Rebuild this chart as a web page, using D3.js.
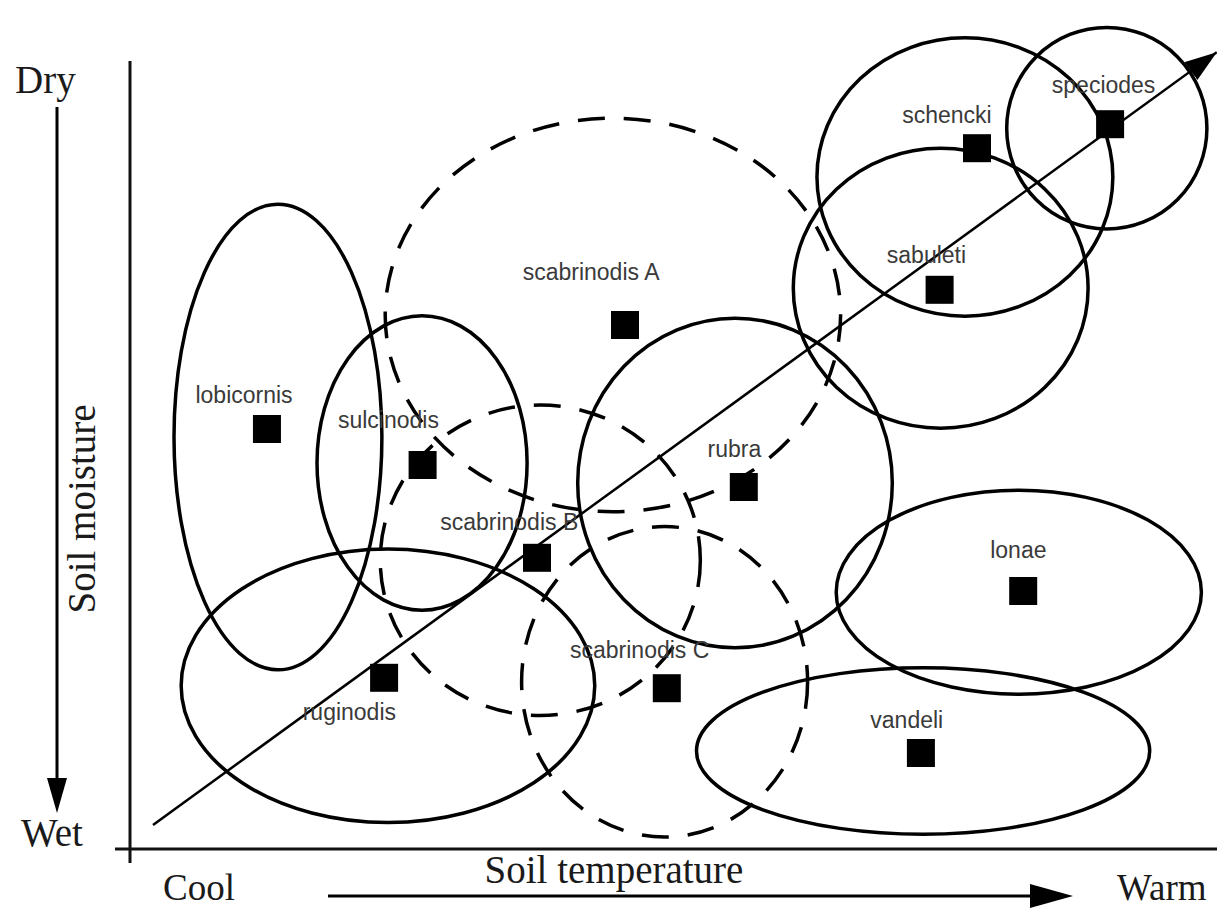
<!DOCTYPE html>
<html>
<head>
<meta charset="utf-8">
<script src="https://cdn.jsdelivr.net/npm/d3@7"></script>
<style>
  html, body { margin: 0; padding: 0; background: #fff; }
  svg { display: block; }
</style>
</head>
<body>
<svg id="chart" width="1217" height="910"></svg>
<script>
// ---- Data (abstract units: temperature 0-100 cool->warm, moisture 0-100 wet->dry) ----
const species      = ["lobicornis","sulcinodis","scabrinodis A","scabrinodis B","scabrinodis C","rubra","ruginodis","schencki","speciodes","sabuleti","lonae","vandeli"];
const optimumTemp  = [12.45, 26.6, 45.0, 37.0, 48.8, 55.8, 23.1, 77.0, 89.1, 73.6, 81.2, 71.9];
const optimumMoist = [52.5, 48.0, 65.5, 36.4, 20.1, 45.25, 21.4, 87.6, 90.6, 69.9, 32.25, 12.0];

// niche ellipses: centre and half-widths
const nicheCx   = [13.45, 26.55, 43.9, 37.3, 48.6, 55.0, 23.45, 75.9, 88.8, 73.7, 80.8, 72.1];
const nicheCy   = [51.5, 48.25, 66.75, 36.1, 20.9, 45.75, 20.4, 84.0, 90.1, 70.1, 32.1, 12.25];
const nicheRx   = [9.45, 9.55, 20.7, 14.55, 13.0, 14.3, 18.8, 13.45, 9.1, 13.4, 16.6, 20.6];
const nicheRy   = [29.1, 18.4, 24.6, 19.4, 19.4, 20.6, 17.1, 17.4, 12.6, 17.5, 12.75, 10.4];
const nicheDash = [false, false, true, true, true, false, false, false, false, false, false, false];

// label anchor offsets (abstract units, relative to square)
const labelDx = [-6.5, -7.7, -9.3, -8.8, -8.8, -3.3, -7.4, -6.8, -5.3, -4.8, -3.0, -4.6];
const labelDy = [3.3, 4.6, 5.6, 3.5, 3.75, 3.75, -5.25, 3.1, 3.9, 3.4, 4.1, 3.1];

// diagonal gradient (start, end)
const trendTemp  = [2.09, 98.8];
const trendMoist = [3.0, 99.6];

const axisText = { dry: "Dry", wet: "Wet", cool: "Cool", warm: "Warm", xTitle: "Soil temperature", yTitle: "Soil moisture" };

// ---- Layout ----
const svg = d3.select("#chart");
const x = d3.scaleLinear().domain([0, 100]).range([130, 1230]);
const y = d3.scaleLinear().domain([0, 100]).range([849, 49]);
const sx = d => x(d) - x(0);
const sy = d => y(0) - y(d);

const serif = "'Liberation Serif','Times New Roman',Times,serif";
const sans  = "'Liberation Sans',Arial,Helvetica,sans-serif";

// axes (plain lines)
svg.append("line").attr("x1", 115).attr("x2", 1217).attr("y1", y(0)).attr("y2", y(0))
   .attr("stroke", "#111").attr("stroke-width", 3);
svg.append("line").attr("x1", x(0)).attr("x2", x(0)).attr("y1", 61).attr("y2", 863)
   .attr("stroke", "#111").attr("stroke-width", 3);

// ellipses
const niches = species.map((s, i) => ({ s, cx: nicheCx[i], cy: nicheCy[i], rx: nicheRx[i], ry: nicheRy[i], dash: nicheDash[i] }));
svg.append("g").selectAll("ellipse").data(niches).join("ellipse")
  .attr("cx", d => x(d.cx)).attr("cy", d => y(d.cy))
  .attr("rx", d => sx(d.rx)).attr("ry", d => sy(d.ry))
  .attr("fill", "none").attr("stroke", "#000").attr("stroke-width", 3.5)
  .attr("stroke-dasharray", d => d.dash ? "27,19" : null);

// trend arrow
const defs = svg.append("defs");
defs.append("marker").attr("id", "tri").attr("markerUnits", "userSpaceOnUse")
  .attr("markerWidth", 32).attr("markerHeight", 22).attr("refX", 32).attr("refY", 11)
  .attr("orient", "auto")
  .append("path").attr("d", "M0,0 L32,11 L0,22 Z").attr("fill", "#000");
svg.append("line")
  .attr("x1", x(trendTemp[0])).attr("y1", y(trendMoist[0]))
  .attr("x2", x(trendTemp[1])).attr("y2", y(trendMoist[1]))
  .attr("stroke", "#000").attr("stroke-width", 2.5).attr("marker-end", "url(#tri)");

// squares
const pts = species.map((s, i) => ({ s, t: optimumTemp[i], m: optimumMoist[i], dx: labelDx[i], dy: labelDy[i] }));
svg.append("g").selectAll("rect").data(pts).join("rect")
  .attr("x", d => x(d.t) - 14).attr("y", d => y(d.m) - 14)
  .attr("width", 28).attr("height", 28).attr("fill", "#000");

// species labels
svg.append("g").selectAll("text").data(pts).join("text")
  .attr("x", d => x(d.t + d.dx)).attr("y", d => y(d.m + d.dy))
  .attr("font-family", sans).attr("font-size", 23).attr("fill", "#3a3a3a")
  .text(d => d.s);

// moisture arrow (left)
svg.append("line").attr("x1", 57).attr("x2", 57).attr("y1", 107).attr("y2", 782)
  .attr("stroke", "#000").attr("stroke-width", 3);
svg.append("path").attr("d", "M47,778 L67,778 L57,813 Z").attr("fill", "#000");

// temperature arrow (bottom)
svg.append("line").attr("x1", 328).attr("x2", 1040).attr("y1", 896).attr("y2", 896)
  .attr("stroke", "#000").attr("stroke-width", 3);
svg.append("path").attr("d", "M1030,884 L1073,896 L1030,908 Z").attr("fill", "#000");

// axis texts
const st = (t, xx, yy, anchor, fs) => svg.append("text").attr("x", xx).attr("y", yy)
  .attr("font-family", serif).attr("font-size", fs || 39).attr("fill", "#1a1a1a")
  .attr("text-anchor", anchor || "start").text(t);
st(axisText.dry, 15, 93);
st(axisText.wet, 21, 846);
st(axisText.cool, 163, 900, "start", 37);
st(axisText.warm, 1117, 900, "start", 37);
st(axisText.xTitle, 614, 883, "middle");
svg.append("text").attr("transform", "translate(95,509) rotate(-90)")
  .attr("font-family", serif).attr("font-size", 39).attr("fill", "#1a1a1a")
  .attr("text-anchor", "middle").text(axisText.yTitle);
</script>
</body>
</html>
